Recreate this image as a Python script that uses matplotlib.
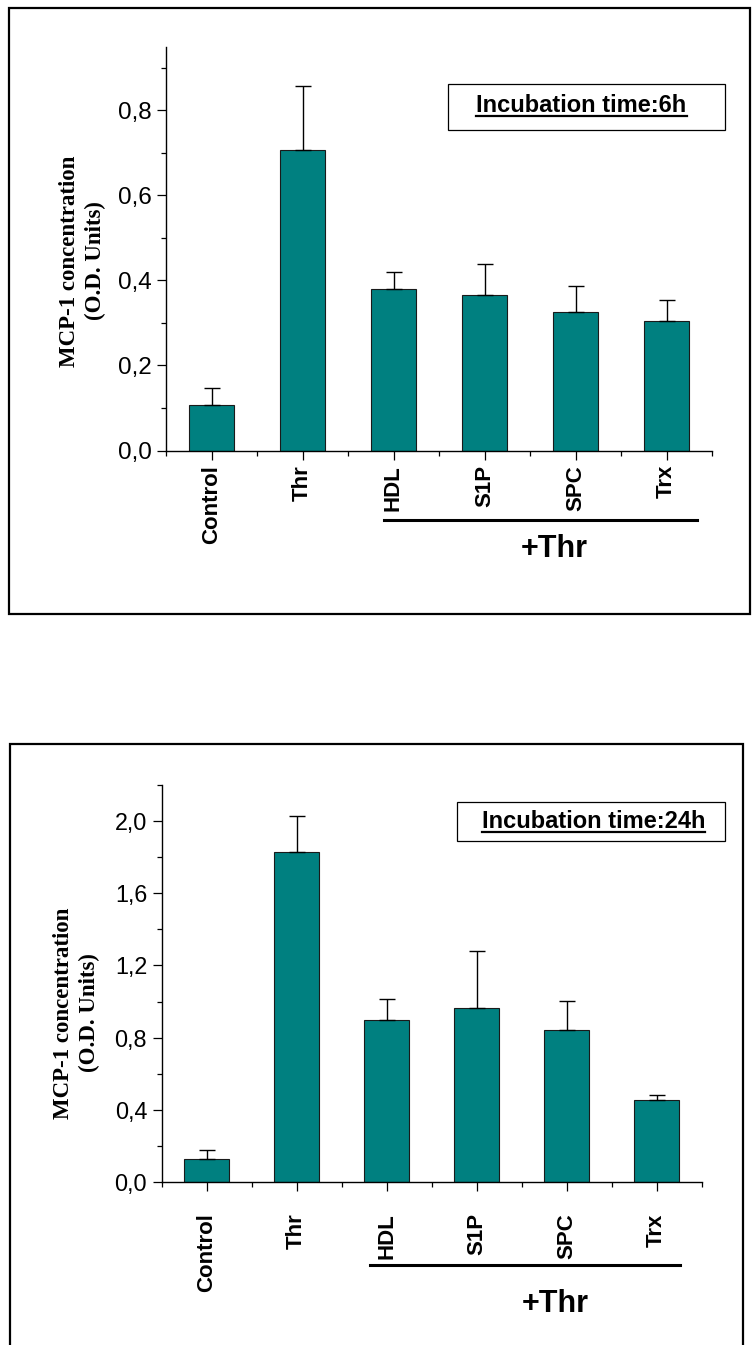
import numpy as np
import matplotlib
matplotlib.use('Agg')
import matplotlib.pyplot as plt
from matplotlib.patches import Rectangle
from matplotlib.lines import Line2D
from matplotlib.ticker import MultipleLocator, FuncFormatter

categories = ['Control', 'Thr', 'HDL', 'S1P', 'SPC', 'Trx']

mcp1_6h = [0.107, 0.707, 0.381, 0.367, 0.326, 0.304]
sem_6h = [0.039, 0.151, 0.040, 0.071, 0.060, 0.050]

mcp1_24h = [0.129, 1.830, 0.898, 0.962, 0.842, 0.452]
sem_24h = [0.050, 0.200, 0.118, 0.319, 0.161, 0.031]

W, H = 755, 1345
BAR_COLOR = '#008080'


def fx(px):
    return px / W


def fy(py):
    return 1 - py / H


def fmt_comma(v, pos):
    return ('%.1f' % v).replace('.', ',')


def draw_panel(fig, rect, values, errors, ymax, major, ylab_size, xpad,
               frame, box, title, title_xy, ylab_xy, line_x, line_y, thr_xy):
    left, top, right, bottom = rect
    ax = fig.add_axes([fx(left), fy(bottom), fx(right - left), (bottom - top) / H])
    x = np.arange(len(categories))
    ax.bar(x, values, width=0.5, color=BAR_COLOR, edgecolor='#1a1a1a',
           linewidth=0.8, zorder=2)
    ax.errorbar(x, values, yerr=[np.zeros(len(errors)), errors], fmt='none',
                ecolor='black', elinewidth=1.0, capsize=5.5, capthick=1.0,
                zorder=3)

    ax.set_xlim(-0.5, 5.5)
    ax.set_ylim(0, ymax)
    ax.spines['top'].set_visible(False)
    ax.spines['right'].set_visible(False)
    for s in ('left', 'bottom'):
        ax.spines[s].set_linewidth(1.0)

    ax.set_xticks(x)
    ax.set_xticklabels(categories, rotation=90, fontsize=16,
                       fontweight='bold', family='Liberation Sans')
    ax.xaxis.set_minor_locator(MultipleLocator(1))
    ax.set_xticks(np.arange(-0.5, 6, 1.0), minor=True)
    ax.yaxis.set_major_locator(MultipleLocator(major))
    ax.yaxis.set_minor_locator(MultipleLocator(major / 2))
    ax.yaxis.set_major_formatter(FuncFormatter(fmt_comma))
    for lab in ax.get_yticklabels():
        lab.set_family('Liberation Sans')
        lab.set_fontsize(ylab_size)
    ax.tick_params(which='major', direction='out', length=6.5, width=0.9)
    ax.tick_params(which='minor', direction='out', length=3.6, width=0.9)
    ax.tick_params(axis='y', pad=4)
    ax.tick_params(axis='x', which='major', pad=xpad)

    # group line and "+Thr"
    trans = matplotlib.transforms.blended_transform_factory(ax.transData, ax.transAxes)
    ax.plot(line_x, [line_y, line_y], color='black', lw=2.2,
            transform=trans, clip_on=False)
    ax.text(thr_xy[0], thr_xy[1], '+Thr', transform=trans, ha='center',
            va='baseline', fontsize=22, fontweight='bold',
            family='Liberation Sans')

    # y label
    fig.text(fx(ylab_xy[0]), fy(ylab_xy[1]), 'MCP-1 concentration\n(O.D. Units)',
             rotation=90, ha='center', va='center', ma='center',
             fontsize=16.5, fontweight='bold', family='Liberation Serif',
             linespacing=1.3)

    # incubation box
    bx0, by0, bx1, by1 = box
    fig.add_artist(Rectangle((fx(bx0), fy(by1)), fx(bx1 - bx0), (by1 - by0) / H,
                             transform=fig.transFigure, fill=False,
                             edgecolor='black', lw=0.9))
    t = fig.text(fx(title_xy[0]), fy(title_xy[1]), title, ha='center',
                 va='baseline', fontsize=17, fontweight='bold',
                 family='Liberation Sans')
    fig.canvas.draw()
    bb = t.get_window_extent()
    uy = fy(title_xy[1] + 4)
    fig.add_artist(Line2D([bb.x0 / fig.bbox.width, bb.x1 / fig.bbox.width],
                          [uy, uy], transform=fig.transFigure,
                          color='black', lw=1.6))

    # outer frame
    fl, ft, fr, fb = frame
    fig.add_artist(Rectangle((fx(fl), fy(fb)), fx(fr - fl), (fb - ft) / H,
                             transform=fig.transFigure, fill=False,
                             edgecolor='black', lw=1.6, clip_on=False))
    return ax


fig = plt.figure(figsize=(W / 100, H / 100), dpi=100)

draw_panel(fig, (166, 46.7, 712, 450.5), mcp1_6h, sem_6h, 0.95, 0.2, 17.5, 4,
           frame=(9, 8, 750, 614), box=(448.3, 84.3, 725, 130.3),
           title='Incubation time:6h', title_xy=(581.5, 111.7),
           ylab_xy=(83, 261), line_x=[1.9, 5.33], line_y=-0.173,
           thr_xy=(3.77, -0.263))

draw_panel(fig, (161.7, 785, 701.7, 1182), mcp1_24h, sem_24h, 2.2, 0.4, 16.8, 16,
           frame=(10, 744.3, 743, 1400), box=(457, 801.5, 725, 841),
           title='Incubation time:24h', title_xy=(593.6, 828),
           ylab_xy=(77, 1013), line_x=[1.81, 5.26], line_y=-0.21,
           thr_xy=(3.87, -0.327))

fig.savefig('out.png', dpi=100)
